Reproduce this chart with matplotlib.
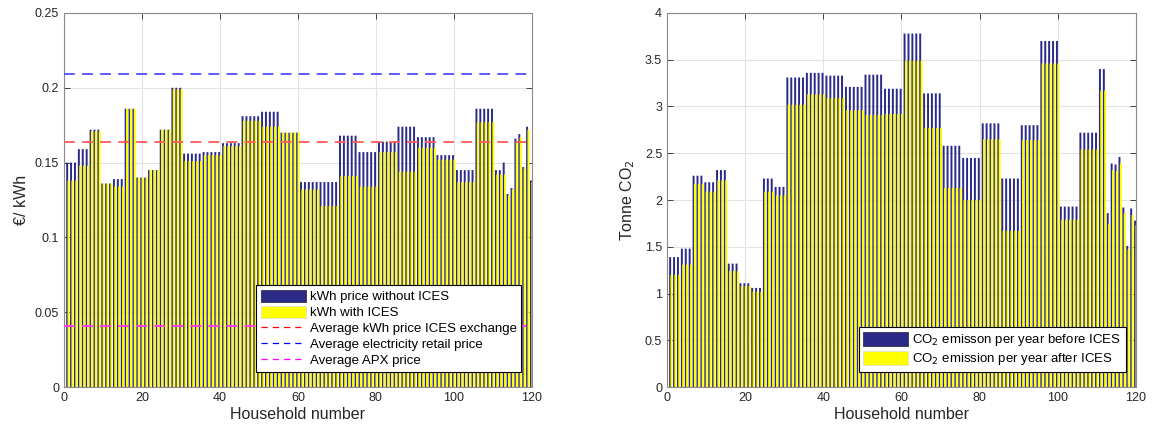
import numpy as np
import matplotlib
matplotlib.use("Agg")
import matplotlib.pyplot as plt
from matplotlib.patches import Patch
from matplotlib.lines import Line2D

plt.rcParams['font.family'] = ['Liberation Sans', 'DejaVu Sans']

# households come in groups that share the same values
group_sizes = [3] * 10 + [5] * 16 + [2] + [1] * 8

# price per kWh (left panel)
price_without = [0.150, 0.159, 0.172, 0.136, 0.139, 0.186, 0.140, 0.145, 0.172, 0.200,
                 0.156, 0.157, 0.163, 0.181, 0.184, 0.170, 0.137, 0.137, 0.168, 0.157,
                 0.164, 0.174, 0.167, 0.155, 0.145, 0.186,
                 0.145, 0.150, 0.129, 0.133, 0.166, 0.169, 0.147, 0.174, 0.138]
price_with = [0.138, 0.148, 0.171, 0.136, 0.134, 0.186, 0.140, 0.145, 0.172, 0.199,
              0.151, 0.155, 0.161, 0.178, 0.174, 0.170, 0.132, 0.121, 0.141, 0.134,
              0.157, 0.144, 0.160, 0.152, 0.137, 0.177,
              0.142, 0.142, 0.128, 0.132, 0.164, 0.167, 0.146, 0.172, 0.137]

avg_ices_exchange = 0.164
avg_retail = 0.209
avg_apx = 0.0405

# CO2 emission per year (right panel)
co2_before = [1.39, 1.48, 2.26, 2.19, 2.32, 1.32, 1.11, 1.06, 2.23, 2.14,
              3.31, 3.36, 3.33, 3.21, 3.34, 3.19, 3.78, 3.14, 2.58, 2.45,
              2.82, 2.23, 2.80, 3.70, 1.93, 2.72,
              3.40, 1.86, 2.39, 2.38, 2.46, 1.92, 1.51, 1.91, 1.78]
co2_after = [1.20, 1.31, 2.17, 2.09, 2.21, 1.24, 1.08, 1.02, 2.09, 2.05,
             3.02, 3.13, 3.09, 2.96, 2.91, 2.92, 3.49, 2.77, 2.13, 2.00,
             2.65, 1.67, 2.64, 3.46, 1.79, 2.54,
             3.17, 1.74, 2.32, 2.31, 2.39, 1.86, 1.47, 1.84, 1.73]

households = np.arange(1, 121)

NAVY = '#2c2a88'
YELLOW = '#ffff00'
AXCOL = '#262626'


def expand(vals):
    return np.repeat(vals, group_sizes)


def grouped_bars(ax, a, b):
    # blue bar sits behind, yellow one overlaps part of it
    ax.bar(households - 0.2, expand(a), width=0.5, color=NAVY,
           linewidth=0, snap=False, zorder=2)
    ax.bar(households + 0.15, expand(b), width=0.5, color=YELLOW,
           linewidth=0, snap=False, zorder=2)


def matlab_axes(ax):
    ax.set_xlim(0, 120)
    ax.set_xticks(np.arange(0, 121, 20))
    ax.grid(True, color='#e3e3e3', linewidth=0.8, zorder=0)
    ax.set_axisbelow(True)
    ax.tick_params(direction='in', top=True, right=True, labelsize=9,
                   colors=AXCOL, length=4, width=0.6)
    for s in ax.spines.values():
        s.set_color('#8a8a8a')
        s.set_linewidth(0.8)
    ax.set_xlabel("Household number", fontsize=11.5, color=AXCOL, labelpad=2)


fig = plt.figure(figsize=(11.52, 4.32), dpi=100)

###########--left: price per kWh--###################

ax1 = fig.add_axes([0.0556, 0.104, 0.406, 0.866])
grouped_bars(ax1, price_without, price_with)
ax1.axhline(avg_ices_exchange, color='#ff5a5a', linestyle=(0, (6, 4)), linewidth=1.3, zorder=3)
ax1.axhline(avg_retail, color='#4f4fff', linestyle=(0, (6, 4)), linewidth=1.3, zorder=3)
ax1.axhline(avg_apx, color='#ff33ff', linestyle=(0, (6, 4)), linewidth=1.3, zorder=3)
matlab_axes(ax1)
ax1.set_ylim(0, 0.25)
ax1.set_yticks([0, 0.05, 0.1, 0.15, 0.2, 0.25])
ax1.set_yticklabels(["0", "0.05", "0.1", "0.15", "0.2", "0.25"])
ax1.set_ylabel("€/ kWh", fontsize=11.5, color=AXCOL, labelpad=4)

handles1 = [Patch(facecolor=NAVY, edgecolor='#202020', linewidth=0.5),
            Patch(facecolor=YELLOW, edgecolor='#d8d8d8', linewidth=0.5),
            Line2D([], [], color='red', linestyle=(0, (5, 4)), linewidth=0.9),
            Line2D([], [], color='blue', linestyle=(0, (5, 4)), linewidth=0.9),
            Line2D([], [], color='magenta', linestyle=(0, (5, 4)), linewidth=0.9)]
labels1 = ["kWh price without ICES", "kWh with ICES",
           "Average kWh price ICES exchange", "Average electricity retail price",
           "Average APX price"]
leg1 = ax1.legend(handles1, labels1, loc='lower right', bbox_to_anchor=(0.978, 0.04),
                  fontsize=9.5, fancybox=False, framealpha=1, edgecolor='black',
                  handlelength=3.4, handleheight=1.0, handletextpad=0.3,
                  labelspacing=0.2, borderpad=0.35, borderaxespad=0)
leg1.get_frame().set_linewidth(0.8)
leg1.set_zorder(5)

###########--right: CO2 emission--###################

ax2 = fig.add_axes([0.579, 0.104, 0.407, 0.866])
grouped_bars(ax2, co2_before, co2_after)
matlab_axes(ax2)
ax2.set_ylim(0, 4)
ax2.set_yticks(np.arange(0, 4.01, 0.5))
ax2.set_yticklabels(["0", "0.5", "1", "1.5", "2", "2.5", "3", "3.5", "4"])
ax2.set_ylabel("Tonne CO$_2$", fontsize=11.5, color=AXCOL, labelpad=6)

handles2 = [Patch(facecolor=NAVY, edgecolor='#202020', linewidth=0.5),
            Patch(facecolor=YELLOW, edgecolor='#d8d8d8', linewidth=0.5)]
labels2 = ["CO$_2$ emisson per year before ICES", "CO$_2$ emission per year after ICES"]
leg2 = ax2.legend(handles2, labels2, loc='lower right', bbox_to_anchor=(0.978, 0.04),
                  fontsize=9.5, fancybox=False, framealpha=1, edgecolor='black',
                  handlelength=3.4, handleheight=1.3, handletextpad=0.3,
                  labelspacing=0.2, borderpad=0.35, borderaxespad=0)
leg2.get_frame().set_linewidth(0.8)
leg2.set_zorder(5)

fig.savefig("out.png", dpi=100)
